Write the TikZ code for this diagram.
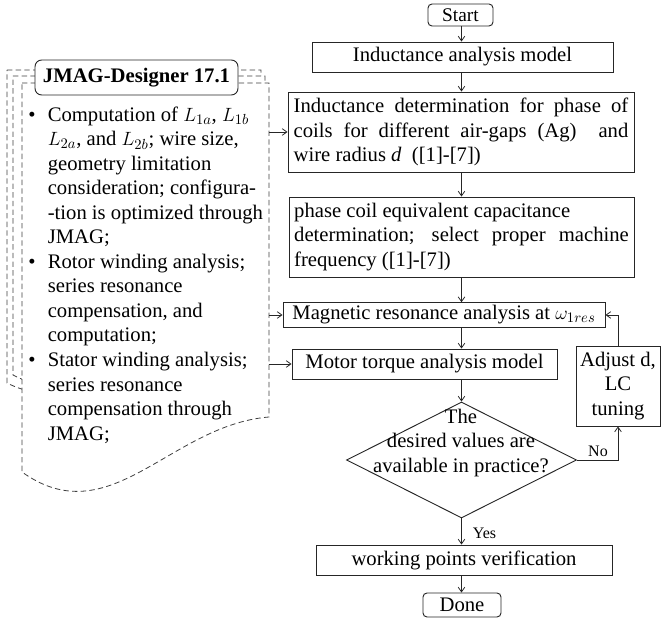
\documentclass[tikz,border=0pt]{standalone}
\usepackage{fontspec}
\setmainfont{Liberation Serif}
\usetikzlibrary{arrows.meta,shapes.geometric,calc}

% bullet and continuation indents for the JMAG task list
\newcommand\bulletmark{\makebox[14.5pt][l]{\textbullet}}
\newcommand\contline{\hspace*{14.5pt}}
% a justified (stretched) line inside the wide process boxes
\newcommand\fullline[1]{\makebox[251pt][s]{#1}}

\begin{document}
\begin{tikzpicture}[x=0.75pt,y=-0.75pt,
  line width=0.7pt,
  >={Straight Barb[length=3.5pt,width=5pt]},
  body/.style={font=\fontsize{15.5pt}{18.4pt}\selectfont},
  proc/.style={draw=black!85, body, inner sep=0pt, align=center},
  term/.style={draw=black!85, rounded corners=3pt, inner sep=0pt, align=center},
  tag/.style={font=\fontsize{12pt}{14pt}\selectfont, inner sep=0pt},
  flow/.style={->, draw=black!85, line width=0.6pt},
  sheet/.style={draw=black!75, dash pattern=on 4pt off 2.5pt, fill=white, line width=0.6pt},
]
\useasboundingbox (0,0) rectangle (661,620);

% ---- stacked document sheets (JMAG tool) ----
\draw[sheet] (7,70) -- (261,70) -- (261,330)
  .. controls (150,350) and (80,420) .. (7,383) -- cycle;
\draw[sheet] (13,76) -- (265,76) -- (265,340)
  .. controls (150,360) and (80,410) .. (13,375) -- cycle;
\draw[sheet] (22,83) -- (269,83) -- (269,417)
  .. controls (170,425) and (110,535) .. (22,472) -- cycle;
\coordinate (sheetR) at (269,0);

\node[term, fill=white, rounded corners=5pt, minimum width=152.25pt, minimum height=26.25pt,
      font=\fontsize{15.5pt}{18.4pt}\selectfont\bfseries] (tool) at (136.5,77.5) {JMAG-Designer 17.1};

\node[body, align=left, anchor=north west, inner sep=0pt] (tasks) at (28,103.5) {%
\strut\bulletmark Computation of $L_{1a}$, $L_{1b}$\\
\contline$L_{2a}$, and $L_{2b}$; wire size,\\
\contline geometry limitation\\
\contline consideration; configura-\\
\contline -tion is optimized through\\
\contline JMAG;\\
\bulletmark Rotor winding analysis;\\
\contline series resonance\\
\contline compensation, and\\
\contline computation;\\
\bulletmark Stator winding analysis;\\
\contline series resonance\\
\contline compensation through\\
\contline JMAG;};

% ---- main flow ----
\coordinate (spine) at (461.5,0);

\node[term, minimum width=48.75pt, minimum height=16.5pt,
      font=\fontsize{14.5pt}{17pt}\selectfont] (start) at (460.5,15) {Start};
\node[proc, minimum width=225.75pt, minimum height=22.5pt] (b1) at (462.5,57) {Inductance analysis model};
\node[proc, align=left, minimum width=259.5pt, minimum height=60pt] (b2) at (461,132) {%
\fullline{Inductance determination for phase of}\\
\fullline{coils for different air-gaps (Ag) \ and}\\
wire radius \textit{d} \ ([1]-[7])};
\node[proc, align=left, minimum width=258.75pt, minimum height=60pt] (b3) at (461.5,237) {%
phase coil equivalent capacitance\\
\fullline{determination; select proper machine}\\
frequency ([1]-[7])};
\node[proc, minimum width=241.5pt, minimum height=18.5pt] (b4) at (444,315) {Magnetic resonance analysis at $\omega_{1res}$};
\node[proc, minimum width=198.75pt, minimum height=22.5pt] (b5) at (424.5,364) {Motor torque analysis model};
\node[draw=black!85, shape=diamond, inner sep=0pt, minimum width=172.5pt, minimum height=87pt] (dec) at (461.5,460) {};
\node[body, align=center, inner sep=0pt] (dectext) at (461,443) {The\\desired values are\\available in practice?};
\node[proc, minimum width=63pt, minimum height=60pt] (adj) at (618,386) {Adjust d,\\LC\\tuning};
\node[proc, minimum width=222pt, minimum height=22.5pt] (b6) at (464,560) {working points verification};
\node[term, body, minimum width=58.5pt, minimum height=18pt] (done) at (462,605) {Done};

\draw[flow] (start.south -| spine) -- (b1.north -| spine);
\draw[flow] (b1.south -| spine) -- (b2.north -| spine);
\draw[flow] (b2.south -| spine) -- (b3.north -| spine);
\draw[flow] (b3.south -| spine) -- (b4.north -| spine);
\draw[flow] (b4.south -| spine) -- (b5.north -| spine);
\draw[flow] (b5.south -| spine) -- (dec.north);
\draw[flow] (dec.south) -- (b6.north -| dec.south);
\draw[flow] (b6.south -| dec.south) -- (done.north -| dec.south);

% ---- feedback loop ----
\draw[flow] (dec.east) -- (dec.east -| adj.south) -- (adj.south);
\draw[flow] (adj.north) |- (b4.east);
\node[tag] (no) at (598,451) {No};
\node[tag] (yes) at (484.5,533) {Yes};

% ---- links from the JMAG sheet ----
\draw[flow] (b2.west -| sheetR) -- (b2.west);
\draw[flow] (b4.west -| sheetR) -- (b4.west);
\draw[flow] (b5.west -| sheetR) -- (b5.west);
\end{tikzpicture}
\end{document}
